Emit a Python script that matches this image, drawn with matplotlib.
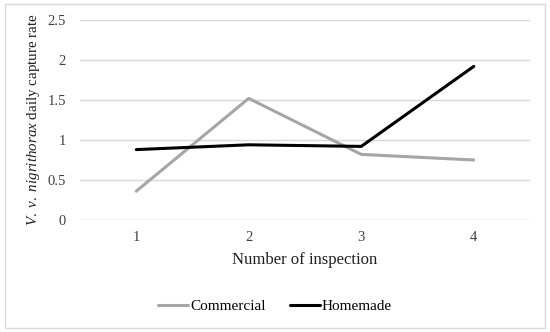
import matplotlib
matplotlib.use("Agg")
import matplotlib.pyplot as plt
from matplotlib.patches import Rectangle

# ── Datos ────────────────────────────────────────────────────────────────
inspections = ["1", "2", "3", "4"]
commercial = [0.36, 1.52, 0.82, 0.75]
homemade = [0.88, 0.94, 0.92, 1.92]
y_ticks = [0, 0.5, 1, 1.5, 2, 2.5]
y_tick_labels = ["0", "0.5", "1", "1.5", "2", "2.5"]

GRAY = "#A6A6A6"
BLACK = "#000000"
GRID = "#D9D9D9"
TEXT = "#404040"

plt.rcParams["font.family"] = ["Liberation Serif", "DejaVu Serif"]
plt.rcParams["mathtext.fontset"] = "custom"
plt.rcParams["mathtext.rm"] = "Liberation Serif"
plt.rcParams["mathtext.it"] = "Liberation Serif:italic"

fig = plt.figure(figsize=(5.5, 3.32), dpi=100)
ax = fig.add_axes([80 / 550, 1 - 220 / 332, 450 / 550, 200 / 332])

x = range(len(inspections))
ax.plot(x, commercial, color=GRAY, lw=2.2, label="Commercial", solid_capstyle="round")
ax.plot(x, homemade, color=BLACK, lw=2.2, label="Homemade", solid_capstyle="round")

ax.set_xlim(-0.5, len(inspections) - 0.5)
ax.set_ylim(0, 2.5)
ax.set_xticks(list(x))
ax.set_xticklabels(inspections, fontsize=10.5, color=TEXT)
ax.set_yticks(y_ticks)
ax.set_yticklabels(y_tick_labels, fontsize=10.5, color=TEXT)
ax.tick_params(length=0, pad=10)
ax.tick_params(axis="x", pad=8)
ax.yaxis.grid(True, color=GRID, lw=1)
ax.set_axisbelow(True)
for s in ax.spines.values():
    s.set_visible(False)

ax.set_xlabel("Number of inspection", fontsize=12, color="#202020", labelpad=6)
ax.set_ylabel(r"$\mathit{V.\ v.\ nigrithorax}$ daily capture rate", fontsize=10.8,
              color="#202020", labelpad=4)

fig.legend(*ax.get_legend_handles_labels(), loc="center",
           bbox_to_anchor=(0.5, 1 - 306 / 332), ncol=2, frameon=False,
           fontsize=11, handlelength=2.0, handletextpad=0.1, columnspacing=1.6)

fig.patches.append(Rectangle((5 / 550, 4 / 332), 540 / 550, 324 / 332,
                             transform=fig.transFigure, fill=False,
                             edgecolor=GRID, lw=1))

fig.savefig("out.png", dpi=100)
